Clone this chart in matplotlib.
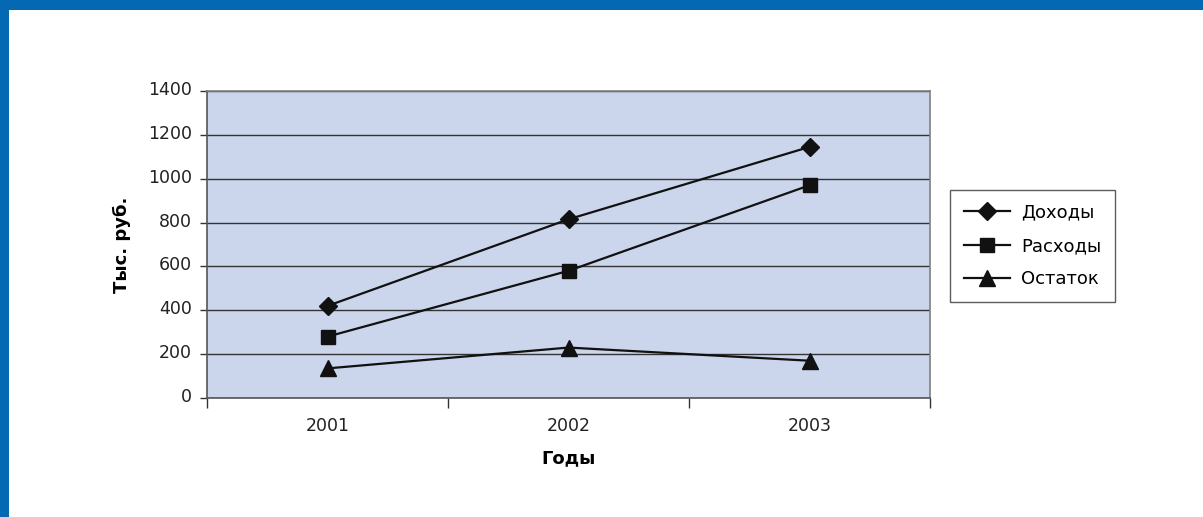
import matplotlib
matplotlib.use("Agg")
import matplotlib.pyplot as plt
from matplotlib.patches import Rectangle
import matplotlib.transforms as mtransforms

years = ["2001", "2002", "2003"]
income = [420, 815, 1145]
expenses = [280, 580, 970]
balance = [135, 230, 170]
series_names = ["Доходы", "Расходы", "Остаток"]

plt.rcParams['font.family'] = ['DejaVu Sans']
W, H = 1203, 517
fig = plt.figure(figsize=(W / 100, H / 100), dpi=100)
fig.patch.set_facecolor("white")

blue = "#0568B3"
fig.add_artist(Rectangle((0, 1 - 10 / H), 1, 10 / H, transform=fig.transFigure,
                         facecolor=blue, edgecolor="none"))
fig.add_artist(Rectangle((0, 0), 9 / W, 1, transform=fig.transFigure,
                         facecolor=blue, edgecolor="none"))

ax = fig.add_axes([207 / W, (H - 398) / H, (930 - 207) / W, (398 - 91) / H])
ax.set_facecolor("#CBD5EC")
x = list(range(len(years)))
ax.plot(x, income, color="#111111", lw=1.6, marker="D", ms=9, label=series_names[0], zorder=3)
ax.plot(x, expenses, color="#111111", lw=1.6, marker="s", ms=10, label=series_names[1], zorder=3)
ax.plot(x, balance, color="#111111", lw=1.6, marker="^", ms=11, label=series_names[2], zorder=3)

ax.set_xlim(-0.5, 2.5)
ax.set_ylim(0, 1400)
ax.set_yticks(range(0, 1401, 200))
ax.set_xticks(x)
ax.set_xticklabels(years)
ax.set_xticks([-0.5, 0.5, 1.5, 2.5], minor=True)
ax.tick_params(axis="x", which="major", length=0, pad=14, labelsize=12.5, colors="#222222")
ax.tick_params(axis="x", which="minor", length=7, width=1, color="#333333", direction="out")
ax.tick_params(axis="y", length=5, width=1, color="#333333", labelsize=12.5, pad=6, colors="#222222")
offset = mtransforms.ScaledTranslation(0, 3 / 100, fig.dpi_scale_trans)
for lbl in ax.get_yticklabels():
    lbl.set_transform(lbl.get_transform() + offset)
ax.yaxis.grid(True, color="#333333", lw=1)
ax.set_axisbelow(True)
for s in ["top", "right"]:
    ax.spines[s].set_color("#808080")
    ax.spines[s].set_linewidth(1.2)
for s in ["left", "bottom"]:
    ax.spines[s].set_color("#555555")
    ax.spines[s].set_linewidth(1.2)

ax.set_ylabel("Тыс. руб.", fontsize=13, fontweight="bold", labelpad=12)
ax.set_xlabel("Годы", fontsize=13, fontweight="bold", labelpad=10)

leg = fig.legend(loc="upper left", bbox_to_anchor=(950 / W, 1 - 190 / H),
                 frameon=True, fancybox=False, edgecolor="#333333", fontsize=13,
                 handlelength=2.6, handletextpad=0.6, borderpad=0.75, labelspacing=0.85,
                 borderaxespad=0)
leg.get_frame().set_linewidth(1)

fig.savefig("out.png", dpi=100)
